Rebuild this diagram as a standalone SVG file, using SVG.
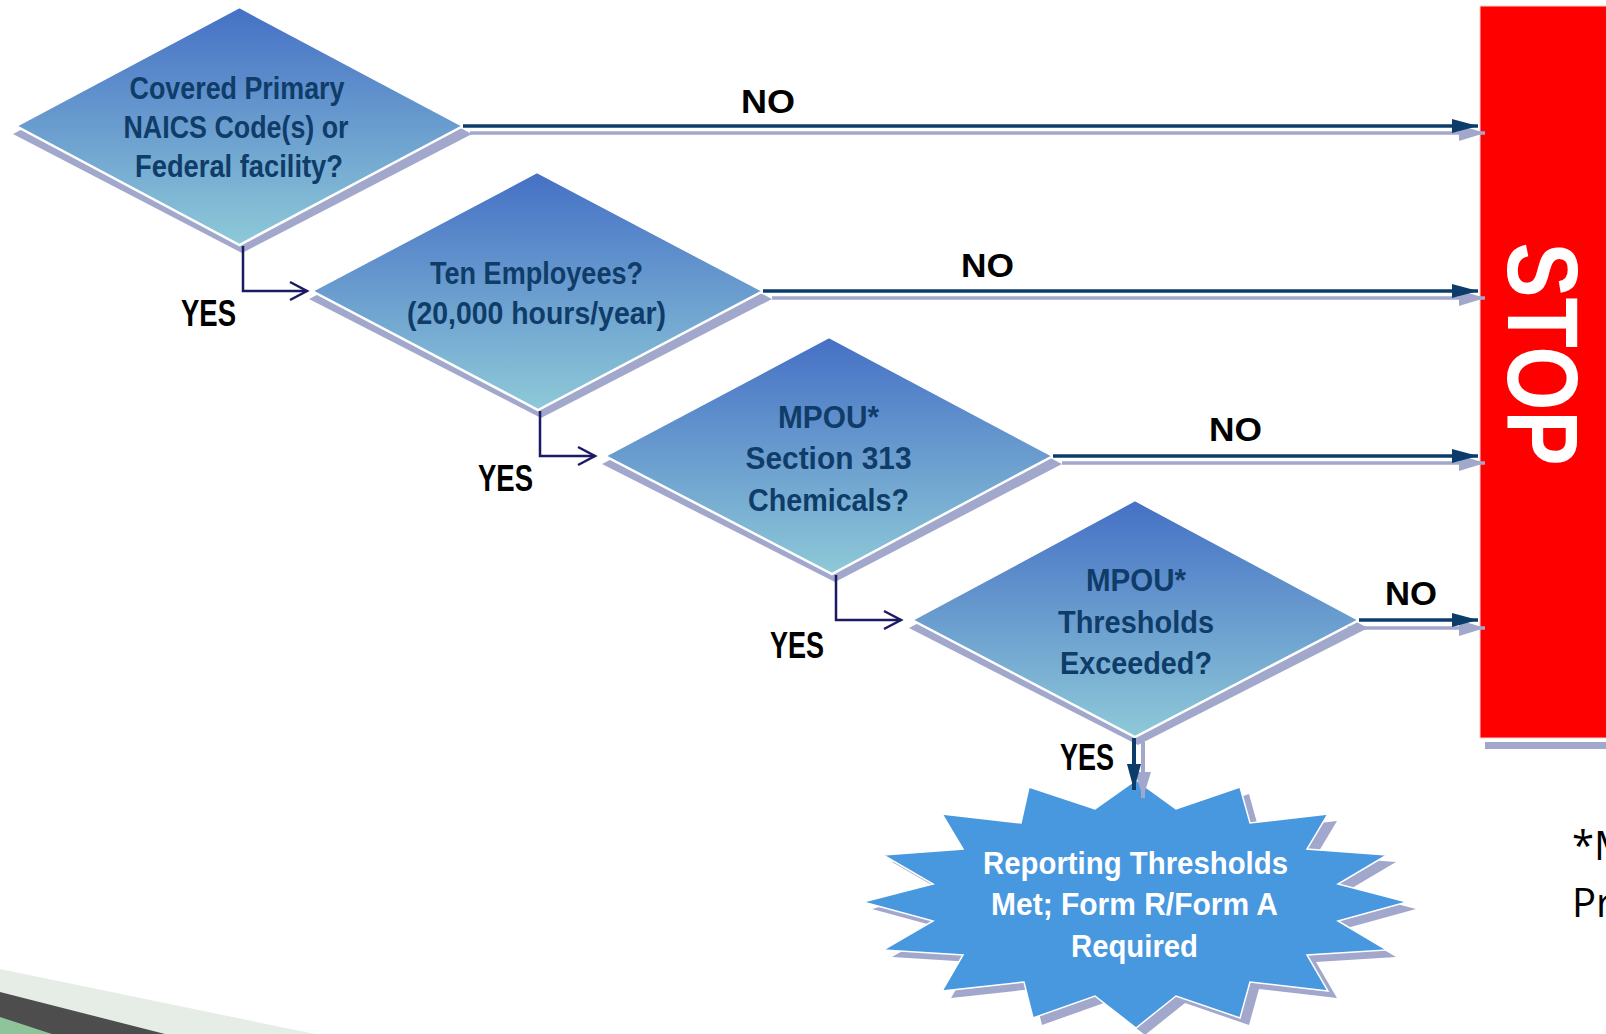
<svg xmlns="http://www.w3.org/2000/svg" width="1606" height="1034" viewBox="0 0 1606 1034">
<defs>
  <linearGradient id="dg" x1="0" y1="0" x2="0" y2="1">
    <stop offset="0" stop-color="#4570c5"/>
    <stop offset="1" stop-color="#8ec9d8"/>
  </linearGradient>
  <marker id="hNo" viewBox="0 0 26 14" refX="26" refY="7" markerWidth="26" markerHeight="14" markerUnits="userSpaceOnUse" orient="auto">
    <path d="M0,0 L26,7 L0,14 Z" fill="#0b3c6a"/>
  </marker>
  <marker id="hSh" viewBox="0 0 26 16" refX="26" refY="8" markerWidth="26" markerHeight="16" markerUnits="userSpaceOnUse" orient="auto">
    <path d="M0,0 L26,8 L0,16 Z" fill="#a2a7cc"/>
  </marker>
  <marker id="hYes" viewBox="-1 -1 20 22" refX="17" refY="9" markerWidth="20" markerHeight="22" markerUnits="userSpaceOnUse" orient="auto" overflow="visible">
    <path d="M0,0 L17,9 L0,18" fill="none" stroke="#1c1a62" stroke-width="2.5"/>
  </marker>
</defs>
<style>
  .dia { fill: url(#dg); stroke: #ffffff; stroke-width: 2.5; stroke-linejoin: miter; }
  .sh { fill: #a2a7cc; }
  .dt { font-family: "Liberation Sans Narrow", "Liberation Sans", Arial, sans-serif; font-weight: bold; font-size: 32px; fill: #0f3c68; text-anchor: middle; }
  .bt { font-family: "Liberation Sans Narrow", "Liberation Sans", Arial, sans-serif; font-weight: bold; font-size: 32px; fill: #ffffff; text-anchor: middle; }
  .lbl { font-family: "Liberation Sans", Arial, sans-serif; font-weight: bold; font-size: 34px; fill: #000000; text-anchor: middle; }
  .yl { font-family: "Liberation Sans", Arial, sans-serif; font-weight: bold; font-size: 37px; fill: #000000; text-anchor: middle; }
  .no { fill: none; stroke: #0b3c6a; stroke-width: 3.5; marker-end: url(#hNo); }
  .nosh { fill: none; stroke: #a2a7cc; stroke-width: 3.5; marker-end: url(#hSh); }
  .yes { fill: none; stroke: #1c1a62; stroke-width: 2.5; marker-end: url(#hYes); }
</style>
<rect x="0" y="0" width="1606" height="1034" fill="#ffffff"/>

<g id="footer-decoration">
  <polygon points="0,969 315,1034 0,1034" fill="#e6ede7"/>
  <polygon points="0,992 165,1034 0,1034" fill="#4d4d4d"/>
  <polygon points="0,1017 52,1034 0,1034" fill="#8fc49b"/>
</g>

<g id="stop">
  <rect x="1485" y="742" width="121" height="7" fill="#a2a7cc"/>
  <rect x="1480" y="6" width="130" height="732" fill="#ff0000" stroke="#ffd0d0" stroke-width="1"/>
  <text transform="translate(1544,354) rotate(90)" x="0" y="36" text-anchor="middle" textLength="223" lengthAdjust="spacingAndGlyphs" font-family="'Liberation Sans', Arial, sans-serif" font-weight="bold" font-size="100" fill="#ffffff">STOP</text>
</g>

<g id="d1">
  <polygon class="sh" points="242,15 472,134 242,253 13,134"/>
  <polygon class="dia" points="239.5,7 463,126 239.5,245 16,126"/>
  <text class="dt"><tspan x="237" y="99" textLength="215" lengthAdjust="spacingAndGlyphs">Covered Primary</tspan><tspan x="236" y="138" textLength="225" lengthAdjust="spacingAndGlyphs">NAICS Code(s) or</tspan><tspan x="239" y="177" textLength="208" lengthAdjust="spacingAndGlyphs">Federal facility?</tspan></text>
</g>

<g id="d2">
  <polygon class="sh" points="540,180 772,299 541,418 309,299"/>
  <polygon class="dia" points="537,172 763,291 538,410 312,291"/>
  <text class="dt"><tspan x="536.5" y="284" textLength="213" lengthAdjust="spacingAndGlyphs">Ten Employees?</tspan><tspan x="536.5" y="324" textLength="259" lengthAdjust="spacingAndGlyphs">(20,000 hours/year)</tspan></text>
</g>

<g id="d3">
  <polygon class="sh" points="832,345 1062,464 835,582 602,464"/>
  <polygon class="dia" points="829,337 1053,456 832,574 605,456"/>
  <text class="dt"><tspan x="828.5" y="428" textLength="101" lengthAdjust="spacingAndGlyphs">MPOU*</tspan><tspan x="828.5" y="469" textLength="166" lengthAdjust="spacingAndGlyphs">Section 313</tspan><tspan x="828.5" y="511" textLength="161" lengthAdjust="spacingAndGlyphs">Chemicals?</tspan></text>
</g>

<g id="d4">
  <polygon class="sh" points="1138,508 1368,628 1138,745 909,628"/>
  <polygon class="dia" points="1135,500 1359,620 1135,737 912,620"/>
  <text class="dt"><tspan x="1136" y="591" textLength="100" lengthAdjust="spacingAndGlyphs">MPOU*</tspan><tspan x="1136" y="633" textLength="156" lengthAdjust="spacingAndGlyphs">Thresholds</tspan><tspan x="1136" y="674" textLength="152" lengthAdjust="spacingAndGlyphs">Exceeded?</tspan></text>
</g>

<g id="result">
  <polygon class="sh" transform="translate(9,7)" points="1136,780 1176,809 1240,787 1250,823 1328,814 1307,849 1387,855 1338,884 1407,902 1338,921 1387,950 1307,955 1328,991 1250,982 1240,1018 1176,996 1136,1028 1095,996 1033,1018 1024,982 942,991 963,955 883,950 933,921 863,902 933,884 883,855 963,849 942,814 1021,823 1029,787 1095,809"/>
  <polygon fill="#4898e0" stroke="#ffffff" stroke-width="1.5" points="1136,780 1176,809 1240,787 1250,823 1328,814 1307,849 1387,855 1338,884 1407,902 1338,921 1387,950 1307,955 1328,991 1250,982 1240,1018 1176,996 1136,1028 1095,996 1033,1018 1024,982 942,991 963,955 883,950 933,921 863,902 933,884 883,855 963,849 942,814 1021,823 1029,787 1095,809"/>
  <text class="bt"><tspan x="1135.5" y="874" textLength="305" lengthAdjust="spacingAndGlyphs">Reporting Thresholds</tspan><tspan x="1134.5" y="915" textLength="287" lengthAdjust="spacingAndGlyphs">Met; Form R/Form A</tspan><tspan x="1134.5" y="957" textLength="127" lengthAdjust="spacingAndGlyphs">Required</tspan></text>
</g>

<g id="connectors">
  <path class="nosh" d="M470,133 H1485"/>
  <path class="nosh" d="M772,298 H1485"/>
  <path class="nosh" d="M1062,463 H1485"/>
  <path class="nosh" d="M1348,628 H1485"/>
  <path class="no" d="M463,126 H1478"/>
  <path class="no" d="M763,291 H1478"/>
  <path class="no" d="M1053,456 H1478"/>
  <path class="no" d="M1359,620 H1478"/>
  <path class="yes" d="M243,246 V291 H307"/>
  <path class="yes" d="M540,411 V456 H595"/>
  <path class="yes" d="M836,575 V620 H901"/>
  <path d="M1143,742 V798" fill="none" stroke="#a2a7cc" stroke-width="4" marker-end="url(#hSh)"/>
  <path d="M1134,738 V790" fill="none" stroke="#0b3c6a" stroke-width="4" marker-end="url(#hNo)"/>
  <text class="lbl" x="768" y="113" textLength="54" lengthAdjust="spacingAndGlyphs">NO</text>
  <text class="lbl" x="987.5" y="277" textLength="53" lengthAdjust="spacingAndGlyphs">NO</text>
  <text class="lbl" x="1235.5" y="441" textLength="53" lengthAdjust="spacingAndGlyphs">NO</text>
  <text class="lbl" x="1411" y="605" textLength="52" lengthAdjust="spacingAndGlyphs">NO</text>
  <text class="yl" x="208.5" y="326" textLength="55" lengthAdjust="spacingAndGlyphs">YES</text>
  <text class="yl" x="505.5" y="491" textLength="55" lengthAdjust="spacingAndGlyphs">YES</text>
  <text class="yl" x="797" y="658" textLength="54" lengthAdjust="spacingAndGlyphs">YES</text>
  <text class="yl" x="1087" y="770" textLength="54" lengthAdjust="spacingAndGlyphs">YES</text>
</g>

<g id="footnote">
  <text x="1572" y="860" font-family="'Open Sans', 'Noto Sans', sans-serif" font-size="40" fill="#000000">*M</text>
  <text x="1572" y="917" font-family="'Open Sans', 'Noto Sans', sans-serif" font-size="40" fill="#000000">Pr</text>
</g>
</svg>
